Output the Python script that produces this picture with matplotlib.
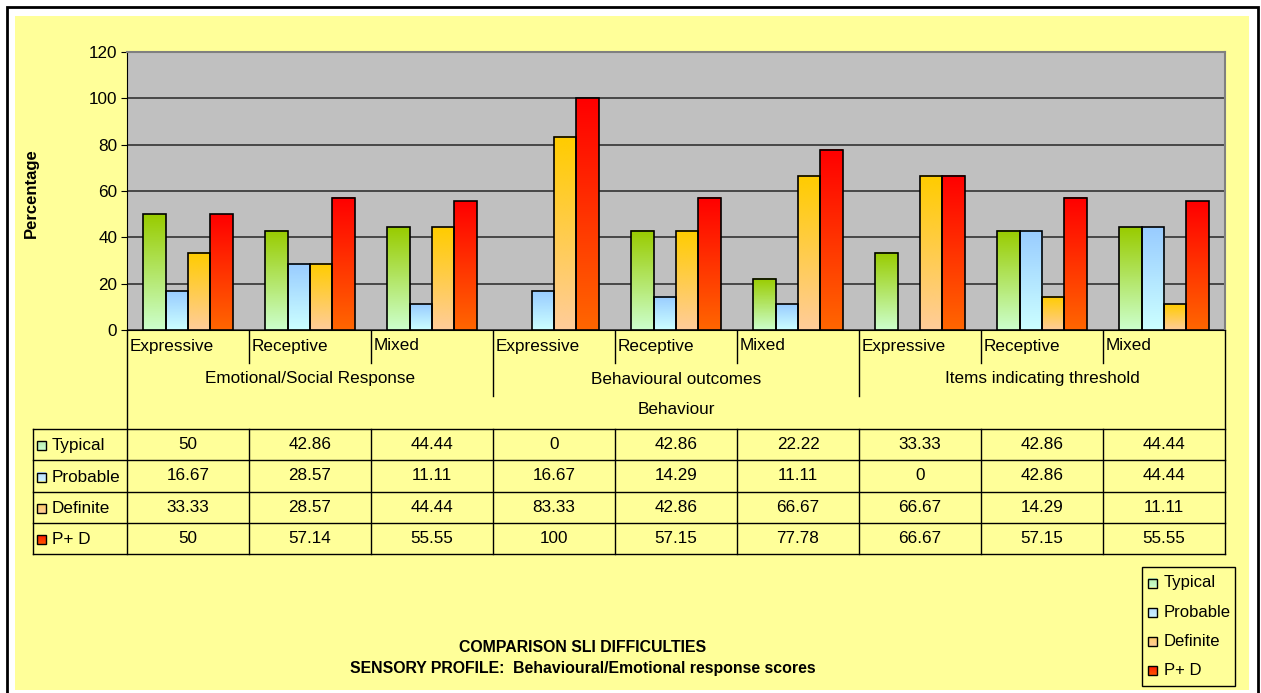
import numpy as np
import matplotlib
matplotlib.use("Agg")
import matplotlib.pyplot as plt
from matplotlib.colors import to_rgb
from matplotlib.patches import Rectangle

plt.rcParams['font.family'] = ['Liberation Sans', 'DejaVu Sans']

# === Données ===
sub_labels = ["Expressive", "Receptive", "Mixed"] * 3
group_labels = ["Emotional/Social Response", "Behavioural outcomes", "Items indicating threshold"]
top_label = "Behaviour"
series_names = ["Typical", "Probable", "Definite", "P+ D"]
typical = [50, 42.86, 44.44, 0, 42.86, 22.22, 33.33, 42.86, 44.44]
probable = [16.67, 28.57, 11.11, 16.67, 14.29, 11.11, 0, 42.86, 44.44]
definite = [33.33, 28.57, 44.44, 83.33, 42.86, 66.67, 66.67, 14.29, 11.11]
p_plus_d = [50, 57.14, 55.55, 100, 57.15, 77.78, 66.67, 57.15, 55.55]
series = [typical, probable, definite, p_plus_d]

# dégradés (haut, bas)
grads = [("#99CC00", "#CCFFCC"), ("#99CCFF", "#CCFFFF"),
         ("#FFCC00", "#FFCC99"), ("#FF0000", "#FF6600")]

W, H = 1261, 693
yellow = "#FFFF99"
fs = 12.3

def grad_img(top, bot, n=64):
    t = np.linspace(0, 1, n)[:, None]
    c = (1 - t) * np.array(to_rgb(top)) + t * np.array(to_rgb(bot))
    return c[:, None, :]

fig = plt.figure(figsize=(W / 100, H / 100), dpi=100)
fig.patch.set_facecolor("white")

# calque en pixels pour le cadre, le tableau, la légende
ov = fig.add_axes([0, 0, 1, 1])
ov.set_xlim(0, W)
ov.set_ylim(H, 0)
ov.axis("off")
ov.add_patch(Rectangle((7, 7), 1251, 690, fc="white", ec="black", lw=2, zorder=0))
ov.add_patch(Rectangle((15, 16), 1234, 674, fc=yellow, ec="none", zorder=1))

# === Axe principal ===
L, R, T, B = 127, 1225, 52, 330
ax = fig.add_axes([L / W, 1 - B / H, (R - L) / W, (B - T) / H])
ax.set_facecolor("#C0C0C0")
n = len(typical)
x = np.arange(n)
bw = 0.184
for s, (vals, (ct, cb)) in enumerate(zip(series, grads)):
    for i, v in enumerate(vals):
        if v <= 0:
            continue
        x0 = x[i] - 2 * bw + s * bw
        ax.imshow(grad_img(ct, cb), extent=(x0, x0 + bw, 0, v), aspect="auto",
                  interpolation="bilinear", zorder=3)
        ax.add_patch(Rectangle((x0, 0), bw, v, fill=False, ec="black", lw=1.2, zorder=4))
ax.set_xlim(-0.5, n - 0.5)
ax.set_ylim(0, 120)
ax.set_yticks(range(0, 121, 20))
ax.yaxis.grid(True, color="#333333", lw=1.2, zorder=1)
ax.set_axisbelow(True)
ax.set_xticks([])
ax.tick_params(axis="y", labelsize=fs, length=4, color="black", pad=3)
for sp in ["top", "right"]:
    ax.spines[sp].set_color("#808080")
    ax.spines[sp].set_linewidth(1.5)
ax.spines["left"].set_color("black")
ax.spines["bottom"].set_color("black")
ov.text(31, 193, "Percentage", fontsize=12, fontweight="bold", rotation=90,
        ha="center", va="center", zorder=6)

# === Étiquettes d'axe multiniveau + tableau ===
cw = (R - L) / n
tab_left = 33
row_y = [429, 460, 492, 523, 554]
lc = "black"
lw = 1.0
# séparateurs verticaux
for k in range(n + 1):
    xp = L + k * cw
    if k == 0 or k == n:
        ov.plot([xp, xp], [B, row_y[-1]], color=lc, lw=lw, zorder=5)
    elif k % 3 == 0:
        ov.plot([xp, xp], [B, 396], color=lc, lw=lw, zorder=5)
        ov.plot([xp, xp], [row_y[0], row_y[-1]], color=lc, lw=lw, zorder=5)
    else:
        ov.plot([xp, xp], [B, 363], color=lc, lw=lw, zorder=5)
        ov.plot([xp, xp], [row_y[0], row_y[-1]], color=lc, lw=lw, zorder=5)
ov.plot([tab_left, tab_left], [row_y[0], row_y[-1]], color=lc, lw=lw, zorder=5)
for yp in row_y:
    ov.plot([tab_left, R], [yp, yp], color=lc, lw=lw, zorder=5)

for k, lab in enumerate(sub_labels):
    ov.text(L + k * cw + 3, 346, lab, fontsize=fs, ha="left", va="center", zorder=6)
for g, lab in enumerate(group_labels):
    ov.text(L + (3 * g + 1.5) * cw, 379, lab, fontsize=fs, ha="center", va="center", zorder=6)
ov.text((L + R) / 2, 410, top_label, fontsize=fs, ha="center", va="center", zorder=6)

def swatch(xp, yc, ct, cb, size=9):
    ov.imshow(grad_img(ct, cb), extent=(xp, xp + size, yc + size / 2, yc - size / 2),
              aspect="auto", interpolation="bilinear", zorder=6)
    ov.add_patch(Rectangle((xp, yc - size / 2), size, size, fill=False, ec="black", lw=1, zorder=7))

swatch_cols = [("#B8EEB0", "#CCFFCC"), ("#B8DDFF", "#CCF2FF"),
               ("#FFCC66", "#FFCC99"), ("#FF1A00", "#FF5500")]
for r, (name, vals) in enumerate(zip(series_names, series)):
    yc = (row_y[r] + row_y[r + 1]) / 2
    swatch(37, yc + 1, *swatch_cols[r])
    ov.text(52, yc + 1, name, fontsize=fs, ha="left", va="center", zorder=6)
    for k, v in enumerate(vals):
        ov.text(L + (k + 0.5) * cw, yc, f"{v:g}", fontsize=fs, ha="center", va="center", zorder=6)

# === Légende ===
ov.add_patch(Rectangle((1142, 567), 93, 119, fc=yellow, ec="black", lw=1, zorder=5))
for r, name in enumerate(series_names):
    yc = 583 + r * 29.3
    swatch(1148, yc, *swatch_cols[r])
    ov.text(1164, yc, name, fontsize=12, ha="left", va="center", zorder=6)

# === Titre ===
ov.text(583, 647, "COMPARISON SLI DIFFICULTIES", fontsize=11.4, fontweight="bold",
        ha="center", va="center", zorder=6)
ov.text(583, 669, "SENSORY PROFILE:  Behavioural/Emotional response scores", fontsize=11.4,
        fontweight="bold", ha="center", va="center", zorder=6)

ov.set_xlim(0, W)
ov.set_ylim(H, 0)

plt.savefig("out.png", dpi=100, facecolor=fig.get_facecolor())
